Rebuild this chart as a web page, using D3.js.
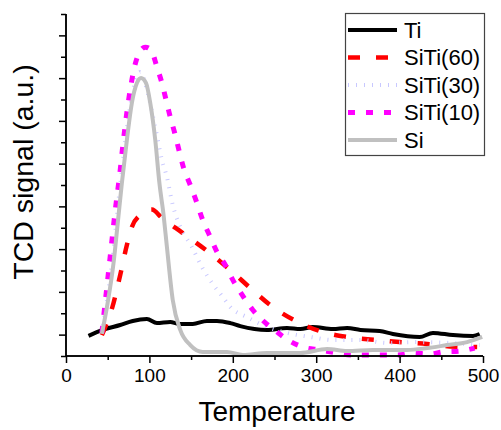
<!DOCTYPE html>
<html>
<head>
<meta charset="utf-8">
<script src="https://cdn.jsdelivr.net/npm/d3@7"></script>
<style>
  body { margin: 0; background: #fff; }
  text { font-family: "Liberation Sans", Arial, sans-serif; }
</style>
</head>
<body>
<div class="content"></div>
<script>
// data (temperature, signal in a.u.)
const tiTemp = [27, 44, 65, 80, 97, 109, 125, 135, 152, 169, 181, 197, 209, 241, 265, 281, 296, 320, 337, 353, 376, 392, 424, 440, 464, 488, 496];
const tiSignal = [-0.06, 0.22, 0.45, 0.64, 0.73, 0.54, 0.59, 0.50, 0.50, 0.64, 0.64, 0.54, 0.40, 0.22, 0.31, 0.26, 0.36, 0.26, 0.31, 0.22, 0.17, 0.03, -0.11, 0.08, -0.02, -0.06, 0.03];

const siti60Temp = [43, 57, 65, 73, 79, 89, 97, 103, 115, 140, 169, 197, 221, 248, 278, 308, 337, 373, 400, 433, 460, 493];
const siti60Signal = [-0.02, 1.48, 2.79, 4.19, 5.04, 5.60, 5.83, 5.85, 5.46, 4.75, 3.92, 3.02, 2.18, 1.29, 0.59, 0.12, -0.11, -0.25, -0.35, -0.44, -0.55, -0.58];

const siti30Temp = [43, 55, 65, 75, 82, 89, 92, 98, 107, 115, 121, 128, 137, 151, 163, 175, 188, 197, 217, 241, 265, 293, 320, 337, 353, 385, 416, 460, 496];
const siti30Signal = [0.08, 3.3, 7.0, 10.2, 11.7, 12.29, 12.1, 11.30, 9.71, 8.17, 7.37, 6.06, 5.04, 4.10, 3.16, 2.42, 1.76, 1.29, 0.82, 0.36, 0.08, -0.11, -0.25, -0.25, -0.25, -0.39, -0.35, -0.39, -0.49];

const siti10Temp = [43, 52, 59, 65, 68, 73, 78, 82, 88, 95, 102, 109, 115, 120, 125, 131, 136, 141, 149, 157, 163, 173, 181, 191, 200, 212, 224, 238, 253, 266, 284, 305, 325, 341, 360, 379, 398, 416, 436, 452, 472, 490];
const siti10Signal = [0.08, 3.3, 5.8, 7.7, 8.8, 10.4, 11.7, 12.5, 13.2, 13.45, 13.32, 12.52, 11.77, 10.98, 10.18, 9.34, 8.54, 7.80, 7.0, 6.16, 5.46, 4.57, 3.87, 3.26, 2.56, 1.81, 1.15, 0.59, 0.12, -0.25, -0.58, -0.72, -0.86, -0.95, -0.95, -0.95, -0.95, -0.86, -0.91, -0.81, -0.77, -0.63];

const siTemp = [43, 50, 57, 62, 67, 73, 79, 85, 90, 96, 101, 107, 112, 117, 121, 128, 137, 149, 164, 193, 212, 241, 281, 313, 337, 368, 409, 433, 457, 481, 499];
const siSignal = [0.03, 1.5, 3.35, 5.2, 7.09, 9.11, 10.84, 11.77, 12.01, 11.77, 10.84, 9.11, 7.09, 5.6, 4.10, 1.62, 0.22, -0.49, -0.81, -0.81, -0.95, -0.86, -0.86, -0.67, -0.77, -0.72, -0.72, -0.63, -0.49, -0.35, -0.11];

const seriesNames = ["Ti", "SiTi(60)", "SiTi(30)", "SiTi(10)", "Si"];
const xTicks = [0, 100, 200, 300, 400, 500];

// set the dimensions and margins of the graph
var margin = {top: 14, right: 18, bottom: 74, left: 66},
    width = 501 - margin.left - margin.right,
    height = 430 - margin.top - margin.bottom;

var svg = d3.select(".content")
    .append("svg")
    .attr("width", width + margin.left + margin.right)
    .attr("height", height + margin.top + margin.bottom)
    .append("g")
    .attr("transform", "translate(" + margin.left + "," + margin.top + ")");

var x = d3.scaleLinear().domain([0, 500]).range([0, width]);
var y = d3.scaleLinear().domain([-1, 15]).range([height, 0]);

// series styles
var styles = [
    {color: "#000000", width: 4, dash: null},
    {color: "#ff0000", width: 4.5, dash: "12,16"},
    {color: "#c8c8ff", width: 4, dash: "1,7"},
    {color: "#ff00ff", width: 5, dash: "7,11"},
    {color: "#c0c0c0", width: 4, dash: null}
];

var series = [
    d3.zip(tiTemp, tiSignal),
    d3.zip(siti60Temp, siti60Signal),
    d3.zip(siti30Temp, siti30Signal),
    d3.zip(siti10Temp, siti10Signal),
    d3.zip(siTemp, siSignal)
];

var line = d3.line()
    .x(function(d) { return x(d[0]); })
    .y(function(d) { return y(d[1]); })
    .curve(d3.curveMonotoneX);

series.forEach(function(s, i) {
    svg.append("path")
        .datum(s)
        .attr("fill", "none")
        .attr("stroke", styles[i].color)
        .attr("stroke-width", styles[i].width)
        .attr("stroke-dasharray", styles[i].dash)
        .attr("stroke-linejoin", "round")
        .attr("d", line);
});

// X axis: major + minor ticks
var xAxis = svg.append("g")
    .attr("transform", "translate(0," + height + ")");
xAxis.append("g")
    .call(d3.axisBottom(x).tickValues(d3.range(50, 500, 100)).tickSize(4).tickFormat(""));
xAxis.append("g")
    .call(d3.axisBottom(x).tickValues(xTicks).tickSize(7).tickPadding(6))
    .selectAll("text")
    .style("font-size", "19px")
    .attr("fill", "#000");
xAxis.selectAll("path, line").attr("stroke", "#000").attr("stroke-width", 1.5);
xAxis.selectAll(".domain").attr("d", "M0,0H" + width);

// Y axis: no labels
var yAxis = svg.append("g");
yAxis.append("g")
    .call(d3.axisLeft(y).tickValues(d3.range(-1, 16, 2)).tickSize(5).tickFormat(""));
yAxis.append("g")
    .call(d3.axisLeft(y).tickValues(d3.range(0, 15, 2)).tickSize(7).tickFormat(""));
yAxis.selectAll("path, line").attr("stroke", "#000").attr("stroke-width", 1.5);
yAxis.selectAll(".domain").attr("d", "M0," + height + "V0");

// axis titles
svg.append("text")
    .attr("x", 277 - margin.left)
    .attr("y", 421 - margin.top)
    .attr("text-anchor", "middle")
    .style("font-size", "28px")
    .text("Temperature");

svg.append("text")
    .attr("transform", "translate(" + (33 - margin.left) + "," + (172 - margin.top) + ") rotate(-90)")
    .attr("text-anchor", "middle")
    .style("font-size", "28.5px")
    .text("TCD signal (a.u.)");

// legend
var legend = svg.append("g")
    .attr("transform", "translate(" + (345 - margin.left) + "," + (13 - margin.top) + ")");
legend.append("rect")
    .attr("x", 0.5).attr("y", 0.5)
    .attr("width", 139).attr("height", 142)
    .attr("fill", "#fff")
    .attr("stroke", "#444")
    .attr("stroke-width", 1.2);

seriesNames.forEach(function(name, i) {
    var ly = 17 + i * 27.5;
    legend.append("line")
        .attr("x1", 3).attr("x2", 52)
        .attr("y1", ly).attr("y2", ly)
        .attr("stroke", styles[i].color)
        .attr("stroke-width", styles[i].width)
        .attr("stroke-dasharray", styles[i].dash);
    legend.append("text")
        .attr("x", 59)
        .attr("y", ly)
        .attr("dy", "0.36em")
        .style("font-size", "22px")
        .text(name);
});
</script>
</body>
</html>
